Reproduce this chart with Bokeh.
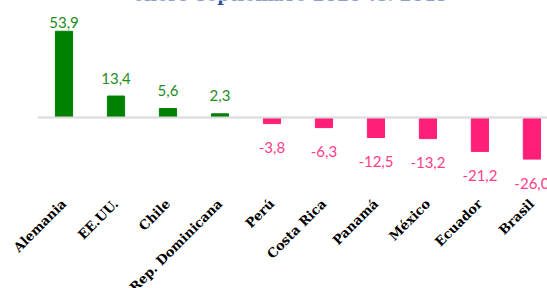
import math
from bokeh.plotting import figure
from bokeh.models import ColumnDataSource, Range1d, Span, Label
from bokeh.core.properties import value
from bokeh.embed import file_html
from bokeh.resources import INLINE

# ---- data ----
titulo = "enero-septiembre 2020 vs. 2019"
paises = ["Alemania", "EE.UU.", "Chile", "Rep. Dominicana", "Perú",
          "Costa Rica", "Panamá", "México", "Ecuador", "Brasil"]
variacion = [53.9, 13.4, 5.6, 2.3, -3.8, -6.3, -12.5, -13.2, -21.2, -26.0]

VERDE = "#008000"
VERDE_TXT = "#1E8C1E"
ROSA = "#FF1F78"
ROSA_TXT = "#FF3C8A"

# ---- layout constants ----
FRAME_W, FRAME_H = 510, 191
K = 1.6                       # px per unit
Y_MAX = 117 / K
Y_MIN = -74 / K

xs = list(range(len(paises)))
colors = [VERDE if v >= 0 else ROSA for v in variacion]
tcolors = [VERDE_TXT if v >= 0 else ROSA_TXT for v in variacion]
labels = [f"{v:.1f}".replace(".", ",") for v in variacion]
label_y = [min(v + 18 / K, (117 - 22) / K) if v >= 0 else v - 24 / K for v in variacion]

src = ColumnDataSource(dict(x=xs, v=variacion, c=colors, tc=tcolors, lab=labels, ly=label_y))

p = figure(width=547, height=316, frame_width=FRAME_W, frame_height=FRAME_H,
           x_range=Range1d(-0.51, 9.30), y_range=Range1d(Y_MIN, Y_MAX),
           output_backend="svg", toolbar_location=None,
           min_border_left=37, min_border_right=0, min_border_top=16, min_border_bottom=109)
p.margin = (-16, 0, -30, 0)
p.outline_line_color = None
p.grid.visible = False
p.yaxis.visible = False
p.background_fill_color = "white"
p.border_fill_color = "white"

p.vbar(x="x", top="v", bottom=0, width=0.33, color="c", source=src)
p.add_layout(Span(location=0, dimension="width", line_color="#D9D9D9", line_width=2))

p.text(x="x", y="ly", text="lab", text_color="tc", text_align="center",
       text_baseline="alphabetic", text_font=value("Lato"), text_font_size="15px",
       source=src)

ax = p.xaxis[0]
ax.ticker = xs
ax.major_label_overrides = {i: n for i, n in zip(xs, paises)}
ax.major_label_orientation = math.pi / 4
ax.axis_line_color = None
ax.major_tick_line_color = None
ax.minor_tick_line_color = None
ax.major_label_standoff = 4
ax.major_label_text_font = "DejaVu Serif"
ax.major_label_text_font_style = "bold"
ax.major_label_text_font_size = "13px"
ax.major_label_text_color = "black"

p.add_layout(Label(x=4.36, y=(117 + 6) / K, text=titulo, text_align="center",
                   text_baseline="alphabetic", text_font="DejaVu Serif",
                   text_font_style="bold", text_font_size="17.5px", text_color="#2E4A9E"))

open("out.html", "w").write(file_html(p, INLINE))
